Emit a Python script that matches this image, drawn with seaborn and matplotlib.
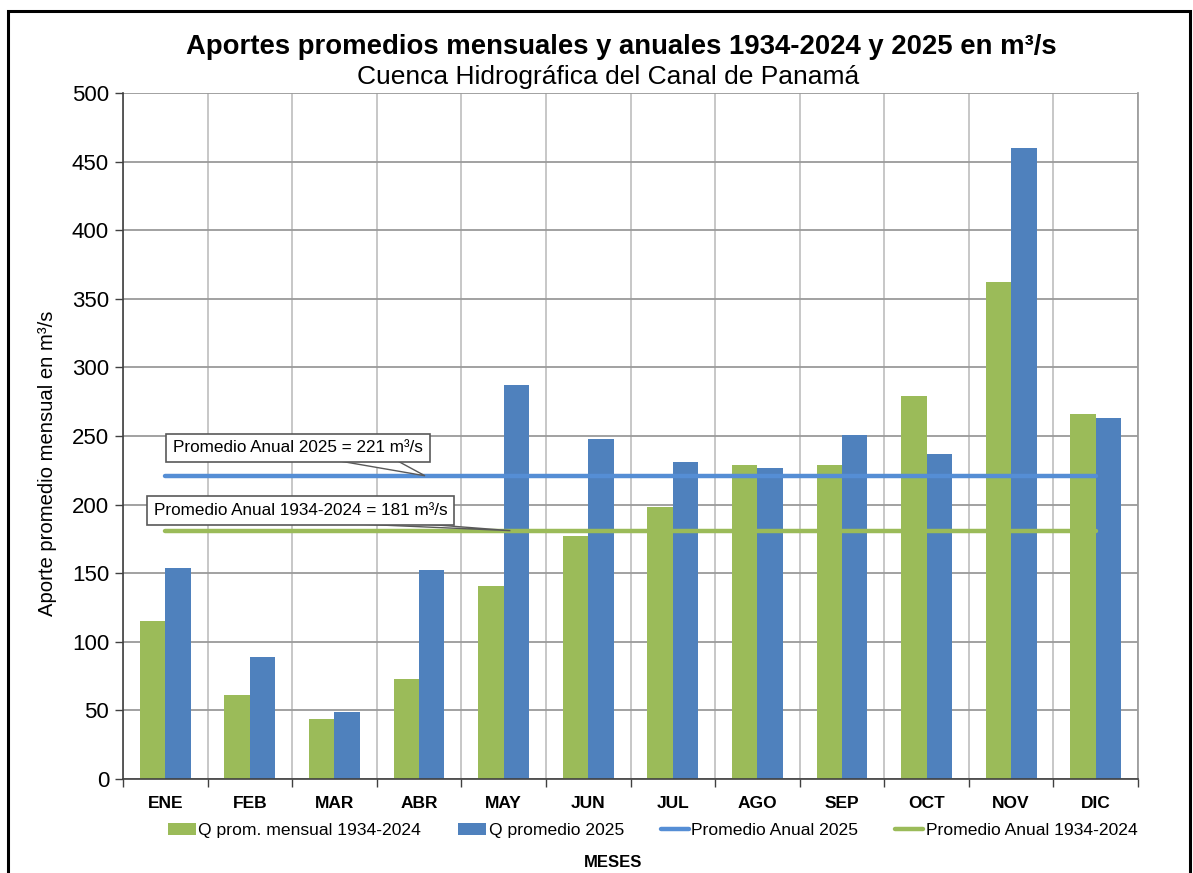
import matplotlib
matplotlib.use("Agg")
import matplotlib.pyplot as plt
import seaborn as sns
import pandas as pd
import numpy as np
from matplotlib.patches import Patch, Rectangle, Polygon
from matplotlib.lines import Line2D
from matplotlib.ticker import MultipleLocator, FixedLocator

months = ["ENE", "FEB", "MAR", "ABR", "MAY", "JUN", "JUL", "AGO", "SEP", "OCT", "NOV", "DIC"]
q_hist = [115, 61, 44, 73, 141, 177, 198, 229, 229, 279, 362, 266]
q_2025 = [154, 89, 49, 152, 287, 248, 231, 227, 251, 237, 460, 263]
avg_2025 = 221
avg_hist = 181
series_names = ["Q prom. mensual 1934-2024", "Q promedio 2025"]
line_names = ["Promedio Anual 2025", "Promedio Anual 1934-2024"]

green = "#9BBB59"
blue = "#4F81BD"
line_blue = "#558ED5"

sns.set_theme(style="white")
plt.rcParams["font.family"] = ["Liberation Sans", "DejaVu Sans"]
for k in ["text.color", "axes.labelcolor", "xtick.color", "ytick.color"]:
    plt.rcParams[k] = "black"

df = pd.DataFrame({
    "mes": months * 2,
    "valor": q_hist + q_2025,
    "serie": [series_names[0]] * 12 + [series_names[1]] * 12,
})

fig = plt.figure(figsize=(11.93, 8.73), dpi=100)
ax = fig.add_axes([0.1031, 0.1077, 0.8508, 0.7858])

sns.barplot(data=df, x="mes", y="valor", hue="serie", order=months,
            hue_order=series_names, palette=[green, blue], width=0.6,
            saturation=1, ax=ax, legend=False, edgecolor="none")

x = np.arange(len(months))
sns.lineplot(x=x, y=[avg_2025] * 12, color=line_blue, linewidth=3.2, ax=ax, legend=False)
sns.lineplot(x=x, y=[avg_hist] * 12, color=green, linewidth=3.2, ax=ax, legend=False)

ax.set_xlim(-0.5, 11.5)
ax.set_ylim(0, 500)
ax.yaxis.set_major_locator(MultipleLocator(50))
ax.set_xticks(x)
ax.set_xticklabels(months, fontsize=12.5, fontweight="bold")
ax.xaxis.set_minor_locator(FixedLocator(np.arange(-0.5, 12, 1)))
ax.tick_params(axis="x", which="major", length=0, pad=12)
ax.tick_params(axis="x", which="minor", length=6, width=1, color="#404040", direction="out", bottom=True)
ax.tick_params(axis="y", which="major", length=6, width=1, color="#404040", direction="out",
               left=True, labelsize=16, pad=4)
ax.grid(axis="y", which="major", color="#9A9A9A", linewidth=1.3)
ax.grid(axis="x", which="minor", color="#BDBDBD", linewidth=1.2)
ax.grid(axis="x", which="major", visible=False)
ax.set_axisbelow(True)
ax.spines["top"].set_visible(False)
ax.spines["right"].set_color("#9A9A9A")
ax.spines["left"].set_color("#404040")
ax.spines["bottom"].set_color("#404040")
ax.spines["left"].set_linewidth(1.2)
ax.spines["bottom"].set_linewidth(1.2)
ax.set_xlabel("")
ax.set_ylabel("Aporte promedio mensual en m³/s", fontsize=14.6)
ax.yaxis.set_label_coords(-0.065, 0.46)

bbox = dict(boxstyle="square,pad=0.4", fc="white", ec="#595959", lw=1.2)
callouts = [
    (f"{line_names[0]} = {avg_2025} m³/s", 1.57, 241.3, (1.85, 2.68), 234.0, 3.07, avg_2025),
    (f"{line_names[1]} = {avg_hist} m³/s", 1.60, 195.7, (1.83, 2.81), 187.0, 4.08, avg_hist),
]
for text, tx, ty, (b0, b1), by, px, py in callouts:
    ax.text(tx, ty, text, ha="center", va="center", fontsize=12.3, bbox=bbox, zorder=6)
    ax.add_patch(Polygon([(b0, by), (b1, by), (px, py)], closed=True, fc="white",
                         ec="#595959", lw=1.0, zorder=5))

handles = [Patch(fc=green, ec="none"), Patch(fc=blue, ec="none"),
           Line2D([0], [0], color=line_blue, lw=3.2), Line2D([0], [0], color=green, lw=3.2)]
labels = series_names + line_names
fig.legend(handles, labels, loc="center", bbox_to_anchor=(0.547, 0.049), ncol=4,
           frameon=False, fontsize=12.6, handlelength=1.6, handletextpad=0.15, columnspacing=2.1)

fig.text(0.521, 0.946, "Aportes promedios mensuales y anuales 1934-2024 y 2025 en m³/s",
         ha="center", va="center", fontsize=19.8, fontweight="bold")
fig.text(0.51, 0.912, "Cuenca Hidrográfica del Canal de Panamá",
         ha="center", va="center", fontsize=19)
fig.text(0.514, 0.0126, "MESES", ha="center", va="center", fontsize=12, fontweight="bold")

fig.patches.append(Rectangle((8 / 1193, -0.05), (1190 - 8) / 1193, 1 - 11 / 873 + 0.05,
                             transform=fig.transFigure, fill=False, ec="black", lw=2.2))

fig.savefig("out.png", dpi=100, facecolor="white")
